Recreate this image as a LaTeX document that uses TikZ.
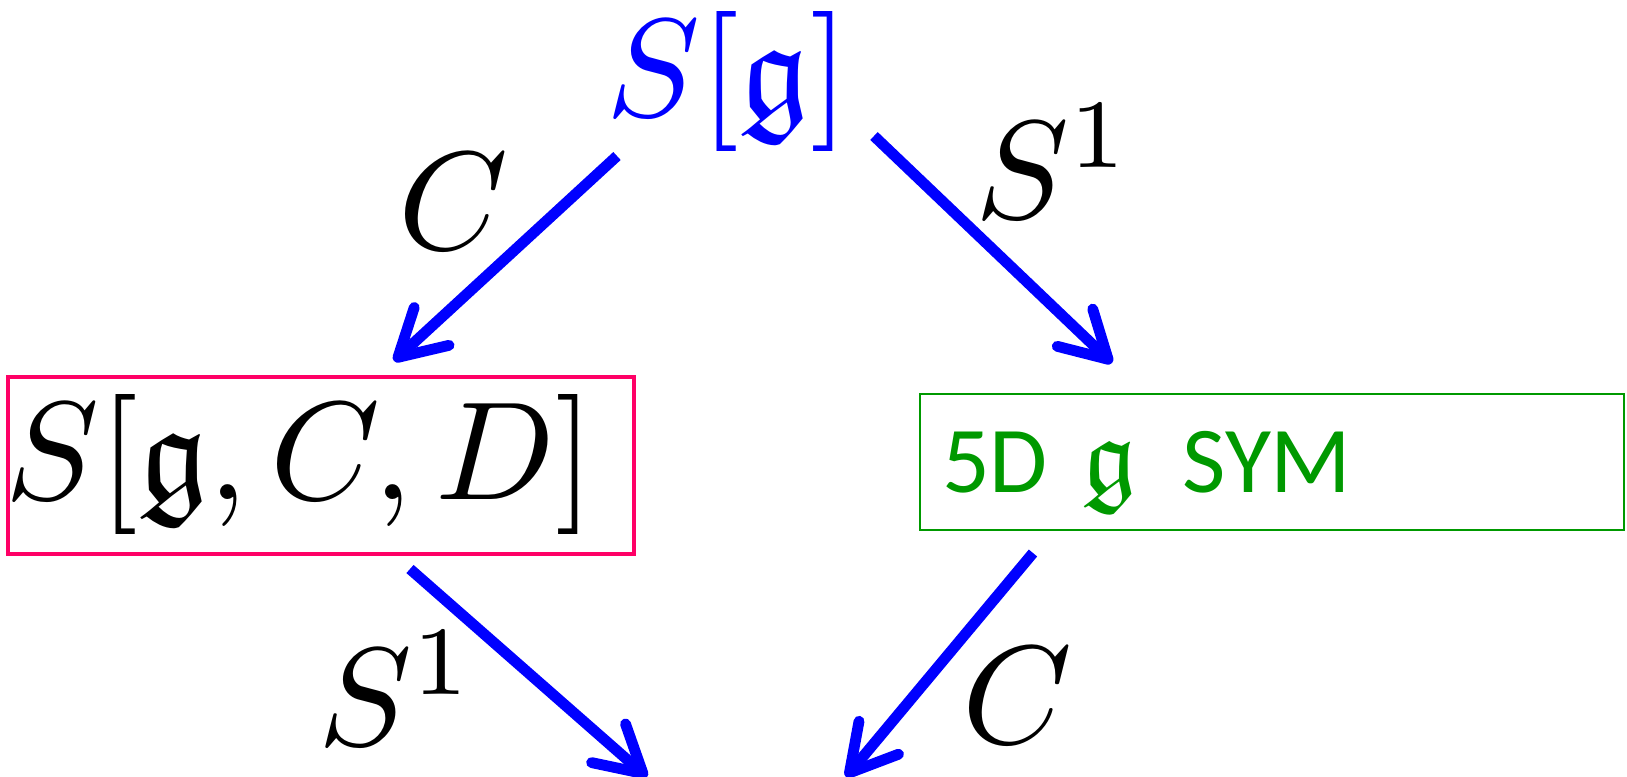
\documentclass[tikz,border=0pt]{standalone}
\usepackage{amssymb}
\usepackage{graphicx}
\usepackage{fontspec}
\newfontfamily\greenfont{Carlito}
\usetikzlibrary{arrows.meta}
\definecolor{myblue}{RGB}{0,0,255}
\definecolor{myred}{RGB}{255,0,102}
\definecolor{mygreen}{RGB}{0,153,0}
\newcommand{\mymath}[1]{\scalebox{2.45}{$#1$}}
\begin{document}
\begin{tikzpicture}[x=0.175pt,y=-0.175pt,
  arr/.style={draw=myblue, line width=1.9pt, -{Straight Barb[length=8pt,width=9pt,round]}},
  lbl/.style={anchor=base, inner sep=0pt},
  redbox/.style={draw=myred, line width=0.7pt, minimum width=109.5pt, minimum height=31pt, inner sep=0pt},
  greenbox/.style={draw=mygreen, line width=0.35pt, minimum width=123.2pt, minimum height=23.8pt, inner sep=0pt},
  greentext/.style={anchor=base west, inner sep=0pt, text=mygreen, font=\greenfont\fontsize{16.5}{20}\selectfont},
]
\useasboundingbox (0,0) rectangle (1627,777);
% nodes
\node[lbl, text=myblue] (top) at (728,116) {\mymath{S[\mathfrak{g}]}};
\node[redbox] (lbox) at (321,465.5) {};
\node[lbl] (ltext) at (300,499.5) {\mymath{S[\mathfrak{g}, C, D]}};
\node[greenbox] (rbox) at (1272,462) {};
\node[greentext] (rtext) at (941,492) {5D\hspace{6pt}\scalebox{1.9}{\fontsize{10}{12}\selectfont$\mathfrak{g}$}\hspace{8pt}SYM};
% labels
\node[lbl] (l1) at (454,249) {\mymath{C}};
\node[lbl] (l2) at (1054,218) {\mymath{S^1}};
\node[lbl] (l3) at (397,745) {\mymath{S^1}};
\node[lbl] (l4) at (1018,743) {\mymath{C}};
% connector ends
\coordinate (a1s) at (617,156);
\coordinate (a1e) at (394,361);
\coordinate (a2s) at (874,136);
\coordinate (a2e) at (1112,363);
\coordinate (a3s) at (410,569);
\coordinate (a3e) at (647,777);
\coordinate (a4s) at (1033,553);
\coordinate (a4e) at (846,777);
\draw[arr] (a1s) -- (a1e);
\draw[arr] (a2s) -- (a2e);
\draw[arr] (a3s) -- (a3e);
\draw[arr] (a4s) -- (a4e);
\end{tikzpicture}
\end{document}
